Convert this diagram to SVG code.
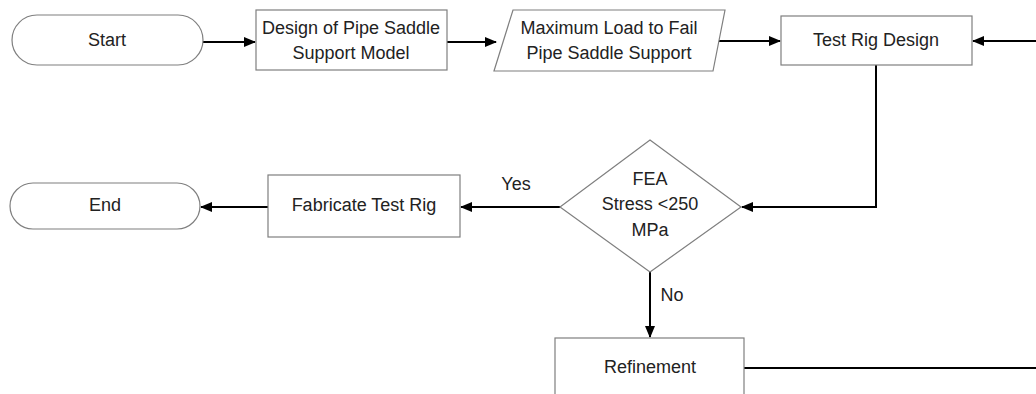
<svg xmlns="http://www.w3.org/2000/svg" width="1036" height="394" viewBox="0 0 1036 394">
  <style>
    .node { fill: #ffffff; stroke: #7f7f7f; stroke-width: 1.2; }
    .lbl { font-family: "Liberation Sans", Arial, sans-serif; font-size: 18px; fill: #222222; text-anchor: middle; }
    .conn { fill: none; stroke: #000000; stroke-width: 2; }
  </style>
  <defs>
    <marker id="arrow" markerUnits="userSpaceOnUse" markerWidth="12" markerHeight="10" refX="11" refY="5" orient="auto">
      <path d="M0,0 L12,5 L0,10 Z" fill="#000000"/>
    </marker>
  </defs>
  <rect width="1036" height="394" fill="#ffffff"/>

  <g id="connectors">
    <path class="conn" d="M203,42 L255,42" marker-end="url(#arrow)"/>
    <path class="conn" d="M447,42 L496,42" marker-end="url(#arrow)"/>
    <path class="conn" d="M716,41 L780,41" marker-end="url(#arrow)"/>
    <path class="conn" d="M1040,41 L973,41" marker-end="url(#arrow)"/>
    <path class="conn" d="M876,65 L876,207 L742,207" marker-end="url(#arrow)"/>
    <path class="conn" d="M560,207 L461,207" marker-end="url(#arrow)"/>
    <path class="conn" d="M268,207 L201,207" marker-end="url(#arrow)"/>
    <path class="conn" d="M650,272 L650,337" marker-end="url(#arrow)"/>
    <path class="conn" d="M744,368 L1040,368"/>
    <text class="lbl" x="516" y="190">Yes</text>
    <text class="lbl" x="672" y="301">No</text>
  </g>

  <g id="start">
    <rect class="node" x="12" y="15" width="191" height="50" rx="25" ry="25"/>
    <text class="lbl" x="107" y="46">Start</text>
  </g>

  <g id="design-model">
    <rect class="node" x="256" y="10" width="191" height="60"/>
    <text class="lbl" x="351" y="34">Design of Pipe Saddle</text>
    <text class="lbl" x="351" y="59">Support Model</text>
  </g>

  <g id="max-load">
    <polygon class="node" points="513,10 725,10 713,71 494,71"/>
    <text class="lbl" x="609" y="34">Maximum Load to Fail</text>
    <text class="lbl" x="609" y="59">Pipe Saddle Support</text>
  </g>

  <g id="test-rig-design">
    <rect class="node" x="781" y="16" width="191" height="49"/>
    <text class="lbl" x="876" y="46">Test Rig Design</text>
  </g>

  <g id="fea-decision">
    <polygon class="node" points="650,140 741,207 650,272 560,207"/>
    <text class="lbl" x="650" y="185">FEA</text>
    <text class="lbl" x="650" y="210">Stress &lt;250</text>
    <text class="lbl" x="650" y="236">MPa</text>
  </g>

  <g id="fabricate">
    <rect class="node" x="268" y="175" width="192" height="62"/>
    <text class="lbl" x="364" y="211">Fabricate Test Rig</text>
  </g>

  <g id="end">
    <rect class="node" x="10" y="183" width="190" height="46" rx="23" ry="23"/>
    <text class="lbl" x="105" y="211">End</text>
  </g>

  <g id="refinement">
    <rect class="node" x="555" y="338" width="189" height="70"/>
    <text class="lbl" x="650" y="373">Refinement</text>
  </g>
</svg>
